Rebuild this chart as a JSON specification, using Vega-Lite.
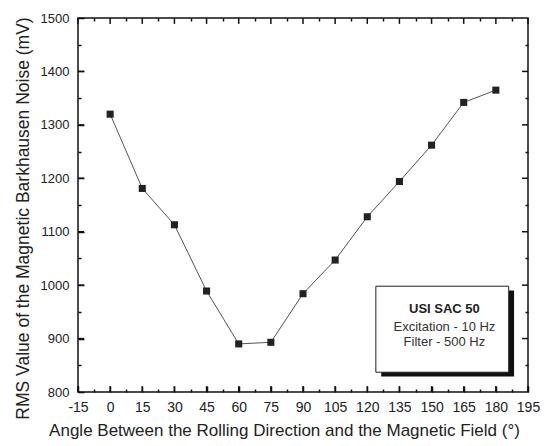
{
  "$schema": "https://vega.github.io/schema/vega-lite/v6.json",
  "width": 450,
  "height": 374,
  "autosize": {"type": "none"},
  "padding": {"left": 78, "top": 18, "right": 19, "bottom": 54},
  "background": "white",
  "config": {
    "view": {"stroke": "#111", "strokeWidth": 1.5},
    "axis": {
      "labelFont": "Liberation Sans",
      "titleFont": "Liberation Sans",
      "labelColor": "#222",
      "titleColor": "#222",
      "tickColor": "#111",
      "tickWidth": 1.5,
      "ticks": true,
      "zindex": 1,
      "domain": false,
      "grid": false,
      "titleFontWeight": "normal",
      "labelOverlap": false,
      "labelFlush": false,
      "format": "d"
    }
  },
  "datasets": {
    "pts": [
      {"angle": 0, "rms": 1320},
      {"angle": 15, "rms": 1181},
      {"angle": 30, "rms": 1113},
      {"angle": 45, "rms": 989},
      {"angle": 60, "rms": 890},
      {"angle": 75, "rms": 893},
      {"angle": 90, "rms": 984},
      {"angle": 105, "rms": 1047},
      {"angle": 120, "rms": 1128},
      {"angle": 135, "rms": 1194},
      {"angle": 150, "rms": 1262},
      {"angle": 165, "rms": 1342},
      {"angle": 180, "rms": 1365}
    ],
    "xmajor": [{"v": -15}, {"v": 0}, {"v": 15}, {"v": 30}, {"v": 45}, {"v": 60}, {"v": 75}, {"v": 90}, {"v": 105}, {"v": 120}, {"v": 135}, {"v": 150}, {"v": 165}, {"v": 180}, {"v": 195}],
    "ymajor": [{"v": 900}, {"v": 1000}, {"v": 1100}, {"v": 1200}, {"v": 1300}, {"v": 1400}],
    "box": [{"x1": 124, "x2": 186, "y1": 837, "y2": 998}],
    "shadow": [{"x1": 126.5, "x2": 188.5, "y1": 829, "y2": 990}],
    "title": [{"x": 156, "y": 955, "label": "USI SAC 50"}],
    "notes": [
      {"x": 156, "y": 922, "label": "Excitation - 10 Hz"},
      {"x": 156, "y": 894, "label": "Filter - 500 Hz"}
    ]
  },
  "layer": [
    {
      "data": {"name": "pts"},
      "mark": {"type": "line", "color": "#555", "strokeWidth": 1},
      "encoding": {
        "x": {
          "field": "angle", "type": "quantitative",
          "scale": {"domain": [-15, 195], "nice": false, "zero": false},
          "axis": {
            "orient": "bottom",
            "values": [-15, 0, 15, 30, 45, 60, 75, 90, 105, 120, 135, 150, 165, 180, 195],
            "offset": -6,
            "tickSize": 6,
            "labelPadding": 8,
            "labelFontSize": 14,
            "labelExpr": "'' + datum.value",
            "title": "Angle Between the Rolling Direction and the Magnetic Field (°)",
            "titleFontSize": 17,
            "titlePadding": 8,
            "titleX": 206
          }
        },
        "y": {
          "field": "rms", "type": "quantitative",
          "scale": {"domain": [800, 1500], "nice": false, "zero": false},
          "axis": {
            "orient": "left",
            "values": [800, 900, 1000, 1100, 1200, 1300, 1400, 1500],
            "offset": -6,
            "tickSize": 6,
            "labelPadding": 9,
            "labelFontSize": 13,
            "title": "RMS Value of the Magnetic Barkhausen Noise (mV)",
            "titleFontSize": 17.5,
            "titlePadding": 8,
            "titleY": 200
          }
        }
      }
    },
    {
      "data": {"name": "xmajor"},
      "mark": {"type": "rule", "color": "#111", "strokeWidth": 1.5},
      "encoding": {"x": {"field": "v", "type": "quantitative", "axis": null}, "y": {"datum": 800, "axis": null}, "y2": {"datum": 811}}
    },
    {
      "data": {"name": "xmajor"},
      "mark": {"type": "rule", "color": "#111", "strokeWidth": 1.5},
      "encoding": {"x": {"field": "v", "type": "quantitative", "axis": null}, "y": {"datum": 1500, "axis": null}, "y2": {"datum": 1489}}
    },
    {
      "data": {"name": "ymajor"},
      "mark": {"type": "rule", "color": "#111", "strokeWidth": 1.5},
      "encoding": {"y": {"field": "v", "type": "quantitative", "axis": null}, "x": {"datum": -15, "axis": null}, "x2": {"datum": -12.2}}
    },
    {
      "data": {"name": "ymajor"},
      "mark": {"type": "rule", "color": "#111", "strokeWidth": 1.5},
      "encoding": {"y": {"field": "v", "type": "quantitative", "axis": null}, "x": {"datum": 195, "axis": null}, "x2": {"datum": 192.2}}
    },
    {
      "data": {"name": "shadow"},
      "mark": {"type": "rect", "color": "#111"},
      "encoding": {
        "x": {"field": "x1", "type": "quantitative", "axis": null},
        "x2": {"field": "x2"},
        "y": {"field": "y1", "type": "quantitative", "axis": null},
        "y2": {"field": "y2"}
      }
    },
    {
      "data": {"name": "box"},
      "mark": {"type": "rect", "fill": "white", "stroke": "#222", "strokeWidth": 1},
      "encoding": {
        "x": {"field": "x1", "type": "quantitative", "axis": null},
        "x2": {"field": "x2"},
        "y": {"field": "y1", "type": "quantitative", "axis": null},
        "y2": {"field": "y2"}
      }
    },
    {
      "data": {"name": "title"},
      "mark": {"type": "text", "font": "Liberation Sans", "fontSize": 13, "fontWeight": "bold", "color": "#222", "align": "center", "baseline": "middle"},
      "encoding": {
        "x": {"field": "x", "type": "quantitative", "axis": null},
        "y": {"field": "y", "type": "quantitative", "axis": null},
        "text": {"field": "label"}
      }
    },
    {
      "data": {"name": "notes"},
      "mark": {"type": "text", "font": "Liberation Sans", "fontSize": 13, "color": "#333", "align": "center", "baseline": "middle"},
      "encoding": {
        "x": {"field": "x", "type": "quantitative", "axis": null},
        "y": {"field": "y", "type": "quantitative", "axis": null},
        "text": {"field": "label"}
      }
    },
    {
      "data": {"name": "pts"},
      "mark": {"type": "point", "shape": "square", "filled": true, "color": "#222", "size": 50, "opacity": 1},
      "encoding": {
        "x": {"field": "angle", "type": "quantitative", "axis": null},
        "y": {"field": "rms", "type": "quantitative", "axis": null}
      }
    },
    {
      "data": {"name": "pts"},
      "mark": {"type": "point", "opacity": 0},
      "encoding": {
        "x": {"field": "angle", "type": "quantitative", "axis": {"orient": "bottom", "values": [-7.5, 7.5, 22.5, 37.5, 52.5, 67.5, 82.5, 97.5, 112.5, 127.5, 142.5, 157.5, 172.5, 187.5], "offset": -3, "tickSize": 3, "labels": false, "title": null}},
        "y": {"field": "rms", "type": "quantitative", "axis": {"orient": "left", "values": [850, 950, 1050, 1150, 1250, 1350, 1450], "offset": -3, "tickSize": 3, "labels": false, "title": null}}
      }
    },
    {
      "data": {"name": "pts"},
      "mark": {"type": "point", "opacity": 0},
      "encoding": {
        "x": {"field": "angle", "type": "quantitative", "axis": {"orient": "top", "values": [-7.5, 7.5, 22.5, 37.5, 52.5, 67.5, 82.5, 97.5, 112.5, 127.5, 142.5, 157.5, 172.5, 187.5], "offset": -3, "tickSize": 3, "labels": false, "title": null}},
        "y": {"field": "rms", "type": "quantitative", "axis": {"orient": "right", "values": [850, 950, 1050, 1150, 1250, 1350, 1450], "offset": -3, "tickSize": 3, "labels": false, "title": null}}
      }
    }
  ],
  "resolve": {"axis": {"x": "independent", "y": "independent"}}
}
